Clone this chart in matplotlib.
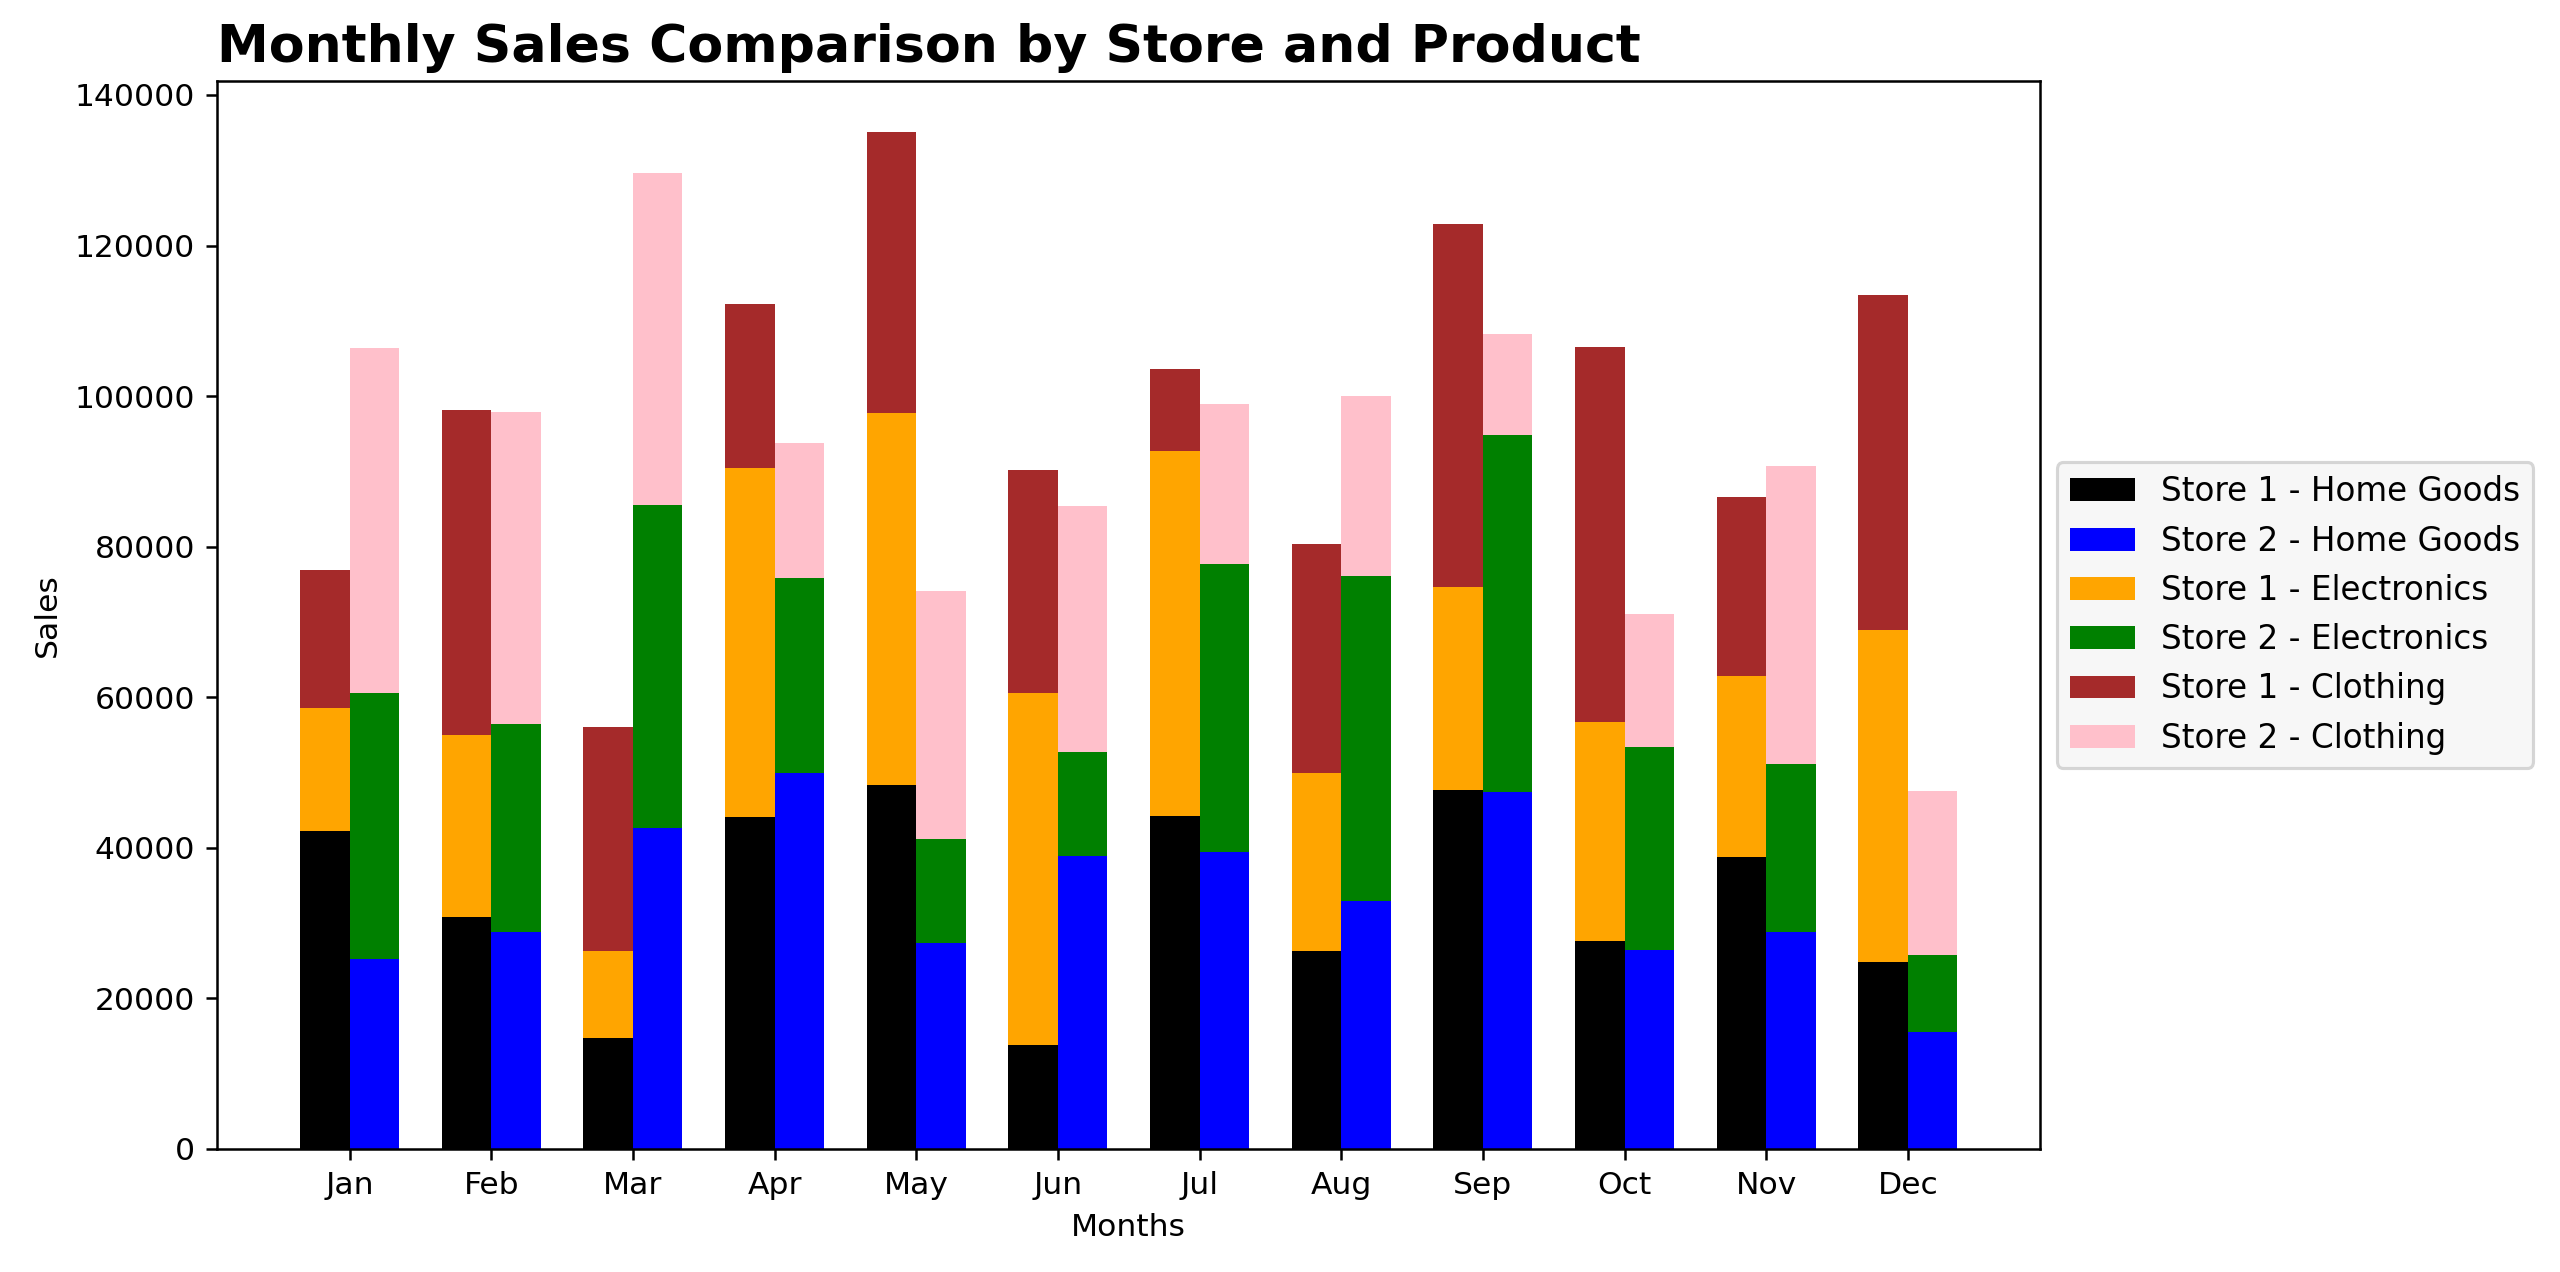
import matplotlib
matplotlib.use("Agg")
import matplotlib.pyplot as plt
import numpy as np

months = ["Jan", "Feb", "Mar", "Apr", "May", "Jun",
          "Jul", "Aug", "Sep", "Oct", "Nov", "Dec"]

# Store 1 sales per product
store1_home = [42300, 30800, 14700, 44100, 48300, 13800,
               44200, 26300, 47700, 27600, 38800, 24900]
store1_electronics = [16300, 24200, 11600, 46400, 49500, 46800,
                      48500, 23700, 26900, 29100, 24000, 44000]
store1_clothing = [18300, 43200, 29700, 21800, 37300, 29600,
                   10900, 30300, 48200, 49800, 23800, 44500]

# Store 2 sales per product
store2_home = [25300, 28800, 42700, 49900, 27400, 38900,
               39500, 32900, 47400, 26400, 28800, 15600]
store2_electronics = [35300, 27600, 42800, 25900, 13800, 13800,
                      38200, 43200, 47500, 27000, 22300, 10200]
store2_clothing = [45800, 41500, 44100, 18000, 32900, 32700,
                   21300, 23900, 13300, 17700, 39600, 21800]

def main():
    dpi = 226
    x = np.arange(len(months))
    w = 0.35

    s1h = np.array(store1_home)
    s1e = np.array(store1_electronics)
    s1c = np.array(store1_clothing)
    s2h = np.array(store2_home)
    s2e = np.array(store2_electronics)
    s2c = np.array(store2_clothing)

    fig = plt.figure(figsize=(2560 / dpi, 1272 / dpi), dpi=dpi)
    ax = fig.add_axes([0.0848, 0.0967, 0.797 - 0.0848, 0.9363 - 0.0967])

    ax.bar(x - w / 2, s1h, w, color="black", label="Store 1 - Home Goods")
    ax.bar(x + w / 2, s2h, w, color="blue", label="Store 2 - Home Goods")
    ax.bar(x - w / 2, s1e, w, bottom=s1h, color="orange", label="Store 1 - Electronics")
    ax.bar(x + w / 2, s2e, w, bottom=s2h, color="green", label="Store 2 - Electronics")
    ax.bar(x - w / 2, s1c, w, bottom=s1h + s1e, color="brown", label="Store 1 - Clothing")
    ax.bar(x + w / 2, s2c, w, bottom=s2h + s2e, color="pink", label="Store 2 - Clothing")

    ax.set_xticks(x)
    ax.set_xticklabels(months)
    ax.set_xlabel("Months")
    ax.set_ylabel("Sales")
    ax.set_title("Monthly Sales Comparison by Store and Product",
                 loc="left", fontsize=16.6, fontweight="bold")
    ax.legend(loc="center left", bbox_to_anchor=(1, 0.5),
              facecolor="whitesmoke", fontsize=10.4)

    fig.savefig("out.png", dpi=dpi)
    return 0

if __name__ == "__main__":
    main()
